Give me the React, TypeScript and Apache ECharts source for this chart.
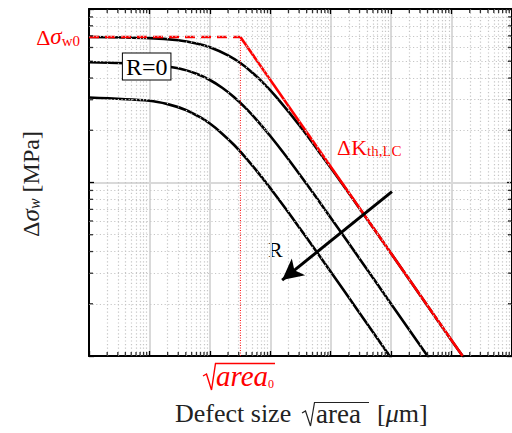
import React, { useEffect, useRef } from "react";
import * as echarts from "echarts";

const SERIF = '"Liberation Serif", "Times New Roman", serif';
const RED = "#ff0000";

// Axis ranges: defect size √area [µm] and stress range Δσ_w [MPa], both logarithmic
const X_MIN = 0.01;
const X_MAX = 100000;
const Y_MIN = 10;
const Y_MAX = 1000;
const X_DECADES = [0.01, 0.1, 1, 10, 100, 1000, 10000];
const Y_DECADES = [10, 100];
const MINOR_STEPS = [2, 3, 4, 5, 6, 7, 8, 9];

// Fatigue limit of the defect-free material and the transition defect size
const SIGMA_W0 = 690;
const AREA_0 = 3.2;
// Long-crack threshold line (slope -1/2) from the transition point down to the axis
const KTH_X = [AREA_0, 15200];
const KTH_Y = [SIGMA_W0, 10];

// Fatigue limit curves, one per stress ratio (R increases downwards)
const CURVE_A_X = [0.01, 0.1, 0.3, 0.6, 1, 2, 3.2, 5, 8, 12, 20, 35, 60, 100, 200, 500, 1000, 3000, 10000, 16000];
const CURVE_A_Y = [689, 679, 660, 633, 602, 541, 488, 431, 369, 317, 256, 200, 155, 121.5, 86.6, 55, 39, 22.5, 12.3, 9.76];
const CURVE_B_X = [0.01, 0.1, 0.3, 0.6, 1, 1.6, 2.5, 4, 6.5, 10, 17, 30, 60, 120, 300, 1000, 4000, 4200];
const CURVE_B_Y = [493.5, 480.5, 455, 423, 389.7, 351.6, 310.9, 266.3, 221.6, 185.3, 146.4, 112.3, 80.5, 57.3, 36.4, 19.96, 9.99, 9.75];
const CURVE_C_X = [0.01, 0.1, 0.2, 0.4, 0.7, 1, 1.5, 2.5, 4, 7, 12, 20, 40, 100, 300, 1000];
const CURVE_C_Y = [309, 296, 283, 262, 237, 218.6, 195, 165, 137.7, 108.8, 85.3, 67.1, 48, 30.6, 17.7, 9.71];

// "R=0" tag placed on the middle curve
const TAG_R0 = [0.09, 466];
// Arrow showing the direction of increasing R
const ARROW_FROM = [1031, 88.5];
const ARROW_TO = [15.7, 27.4];

const minorX = X_DECADES.flatMap((d) => MINOR_STEPS.map((m) => +(m * d).toPrecision(3)));
const minorY = Y_DECADES.flatMap((d) => MINOR_STEPS.map((m) => +(m * d).toPrecision(3)));

const pairs = (xs: number[], ys: number[]) => xs.map((x, i) => [x, ys[i]]);

const logAxis = (min: number, max: number, position: string, grid: boolean) => ({
  type: "log",
  logBase: 10,
  min,
  max,
  position,
  axisLine: { show: true, onZero: false, lineStyle: { color: "#000", width: 2 } },
  axisTick: { show: true, inside: true, length: 5, lineStyle: { color: "#000", width: 1.3 } },
  axisLabel: { show: false },
  splitLine: { show: grid, lineStyle: { color: "#d9d9d9", width: 2 } },
});

const curve = (xs: number[], ys: number[], extra: object = {}) => ({
  type: "line",
  data: pairs(xs, ys),
  symbol: "none",
  smooth: 0.3,
  silent: true,
  z: 3,
  lineStyle: { color: "#000", width: 2.6 },
  ...extra,
});

const tickSeries = (data: number[][], size: number[], offset: number[]) => ({
  type: "scatter",
  data,
  symbol: "rect",
  symbolSize: size,
  symbolOffset: offset,
  clip: false,
  silent: true,
  z: 6,
  itemStyle: { color: "#000" },
});

const option = {
  animation: false,
  backgroundColor: "#fff",
  grid: { left: 89, top: 9, width: 425, height: 347, containLabel: false },
  xAxis: [logAxis(X_MIN, X_MAX, "bottom", true), logAxis(X_MIN, X_MAX, "top", false)],
  yAxis: [logAxis(Y_MIN, Y_MAX, "left", true), logAxis(Y_MIN, Y_MAX, "right", false)],
  series: [
    {
      type: "line",
      data: [[X_MIN, Y_MIN]],
      symbol: "none",
      silent: true,
      z: 1,
      lineStyle: { width: 0 },
      markLine: {
        silent: true,
        symbol: ["none", "none"],
        label: { show: false },
        lineStyle: { color: "#c6c6c6", width: 1.2, type: [1.2, 2.4] },
        data: [...minorX.map((v) => ({ xAxis: v })), ...minorY.map((v) => ({ yAxis: v }))],
      },
    },
    curve(CURVE_A_X, CURVE_A_Y),
    curve(CURVE_B_X, CURVE_B_Y, {
      markPoint: {
        silent: true,
        symbol: "rect",
        symbolSize: 1,
        itemStyle: { color: "transparent" },
        label: {
          show: true,
          position: "inside",
          formatter: "R=0",
          fontFamily: SERIF,
          fontSize: 24,
          color: "#000",
          backgroundColor: "#fff",
          borderColor: "#000",
          borderWidth: 1,
          padding: [2, 3, 0, 3],
        },
        data: [{ coord: TAG_R0 }],
      },
    }),
    curve(CURVE_C_X, CURVE_C_Y),
    {
      type: "line",
      data: [[X_MIN, SIGMA_W0], [AREA_0, SIGMA_W0]],
      symbol: "none",
      silent: true,
      z: 4,
      lineStyle: { color: RED, width: 2.6, type: [10, 6] },
    },
    {
      type: "line",
      data: [[AREA_0, Y_MIN], [AREA_0, SIGMA_W0]],
      symbol: "none",
      silent: true,
      z: 4,
      lineStyle: { color: RED, width: 1, type: [1, 1.5] },
    },
    {
      type: "line",
      data: pairs(KTH_X, KTH_Y),
      symbol: "none",
      silent: true,
      z: 4,
      lineStyle: { color: RED, width: 2.6 },
    },
    {
      type: "line",
      data: [],
      silent: true,
      z: 6,
      markLine: {
        silent: true,
        symbol: ["none", "arrow"],
        symbolSize: [16, 21],
        label: { show: false },
        lineStyle: { color: "#000", width: 3, type: "solid" },
        itemStyle: { color: "#000" },
        data: [[{ coord: ARROW_FROM }, { coord: ARROW_TO }]],
      },
    },
    tickSeries(minorX.map((v) => [v, Y_MIN]), [1.3, 4], [0, -2]),
    tickSeries(minorX.map((v) => [v, Y_MAX]), [1.3, 4], [0, 2]),
    tickSeries(minorY.map((v) => [X_MIN, v]), [4, 1.3], [2, 0]),
    tickSeries(minorY.map((v) => [X_MAX, v]), [4, 1.3], [-2, 0]),
  ],
  graphic: [
    // Δσ_w0 level marker
    {
      type: "text",
      x: 80,
      y: 36,
      silent: true,
      style: {
        text: "{d|Δ}{s|σ}{w|w0}",
        align: "right",
        verticalAlign: "middle",
        fill: RED,
        fontFamily: SERIF,
        rich: {
          d: { fontSize: 22, fontFamily: SERIF, fill: RED, lineHeight: 24, verticalAlign: "bottom" },
          s: { fontSize: 23, fontFamily: SERIF, fontStyle: "italic", fill: RED, lineHeight: 24, verticalAlign: "bottom" },
          w: { fontSize: 15, fontFamily: SERIF, fill: RED, lineHeight: 16, verticalAlign: "bottom" },
        },
      },
    },
    // ΔK_th,LC threshold label
    {
      type: "text",
      x: 337,
      y: 146,
      silent: true,
      style: {
        text: "{k|ΔK}{t|th,LC}",
        align: "left",
        verticalAlign: "middle",
        fill: RED,
        fontFamily: SERIF,
        rich: {
          k: { fontSize: 22, fontFamily: SERIF, fill: RED, lineHeight: 24, verticalAlign: "bottom" },
          t: { fontSize: 15, fontFamily: SERIF, fill: RED, lineHeight: 16, verticalAlign: "bottom" },
        },
      },
    },
    // R label next to the arrow
    {
      type: "text",
      x: 268,
      y: 249,
      silent: true,
      style: { text: "R", fontFamily: SERIF, fontSize: 22, fill: "#000", align: "left", verticalAlign: "middle" },
    },
    // √area_0 below the axis
    {
      type: "polyline",
      silent: true,
      shape: { points: [[203, 376], [206.5, 374], [211.5, 390], [215.5, 363.5], [275, 363.5]] },
      style: { stroke: RED, lineWidth: 1.4, fill: "none" },
    },
    {
      type: "text",
      x: 216,
      y: 375,
      silent: true,
      style: {
        text: "{a|area}{o|0}",
        align: "left",
        verticalAlign: "middle",
        fill: RED,
        fontFamily: SERIF,
        rich: {
          a: { fontSize: 29, fontFamily: SERIF, fontStyle: "italic", fill: RED, lineHeight: 30, verticalAlign: "bottom" },
          o: { fontSize: 12, fontFamily: SERIF, fill: RED, lineHeight: 12, verticalAlign: "bottom" },
        },
      },
    },
    // x axis title: Defect size √area [µm]
    {
      type: "text",
      x: 175,
      y: 413.5,
      silent: true,
      style: { text: "Defect size", fontFamily: SERIF, fontSize: 26, fill: "#222", align: "left", verticalAlign: "middle" },
    },
    {
      type: "polyline",
      silent: true,
      shape: { points: [[302, 413], [305.5, 411], [310.5, 426], [314.5, 402.5], [369, 402.5]] },
      style: { stroke: "#222", lineWidth: 1.2, fill: "none" },
    },
    {
      type: "text",
      x: 316,
      y: 413.5,
      silent: true,
      style: { text: "area", fontFamily: SERIF, fontSize: 27, fill: "#222", align: "left", verticalAlign: "middle" },
    },
    {
      type: "text",
      x: 377,
      y: 413.5,
      silent: true,
      style: {
        text: "[{m|μ}m]",
        fontFamily: SERIF,
        fontSize: 26,
        fill: "#222",
        align: "left",
        verticalAlign: "middle",
        rich: { m: { fontSize: 26, fontFamily: SERIF, fontStyle: "italic", fill: "#222" } },
      },
    },
    // y axis title: Δσ_w [MPa]
    {
      type: "text",
      x: 29.5,
      y: 184,
      rotation: Math.PI / 2,
      silent: true,
      style: {
        text: "{d|Δ}{s|σ}{w|w}{n| [MPa]}",
        align: "center",
        verticalAlign: "middle",
        fill: "#222",
        fontFamily: SERIF,
        rich: {
          d: { fontSize: 24, fontFamily: SERIF, fill: "#222", lineHeight: 26, verticalAlign: "bottom" },
          s: { fontSize: 25, fontFamily: SERIF, fontStyle: "italic", fill: "#222", lineHeight: 26, verticalAlign: "bottom" },
          w: { fontSize: 16, fontFamily: SERIF, fontStyle: "italic", fill: "#222", lineHeight: 17, verticalAlign: "bottom" },
          n: { fontSize: 24, fontFamily: SERIF, fill: "#222", lineHeight: 26, verticalAlign: "bottom" },
        },
      },
    },
  ],
};

export default function App() {
  const ref = useRef<HTMLDivElement>(null);
  useEffect(() => {
    document.body.style.margin = "0";
    const chart = echarts.init(ref.current!, null, { renderer: "svg" });
    chart.setOption(option as any);
    return () => chart.dispose();
  }, []);
  return <div ref={ref} style={{ width: 512, height: 433 }} />;
}
